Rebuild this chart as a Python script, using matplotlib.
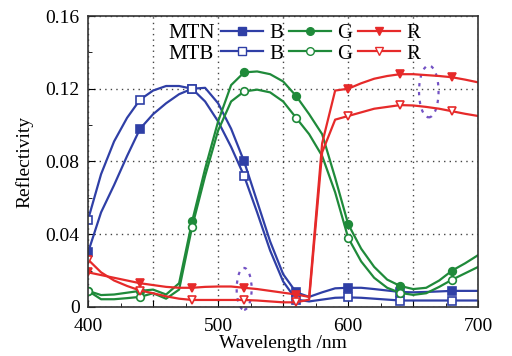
import numpy as np
import matplotlib.pyplot as plt
from matplotlib.lines import Line2D
from matplotlib.patches import Ellipse
from matplotlib.ticker import MultipleLocator, FuncFormatter

plt.rcParams['font.family'] = ['Liberation Serif', 'DejaVu Serif']

# wavelength grid (nm) and reflectivity readings
wavelength = np.arange(400, 701, 10)

mtn_b = [0.030, 0.052, 0.067, 0.083, 0.098, 0.106, 0.112, 0.117, 0.120, 0.1205,
         0.112, 0.098, 0.080, 0.058, 0.036, 0.018, 0.008, 0.0055, 0.008, 0.0102,
         0.0105, 0.0105, 0.0098, 0.009, 0.0082, 0.008, 0.0082, 0.0085, 0.0088, 0.0088,
         0.0088]
mtb_b = [0.048, 0.073, 0.091, 0.104, 0.114, 0.119, 0.1215, 0.1215, 0.120, 0.113,
         0.102, 0.088, 0.072, 0.052, 0.031, 0.014, 0.004, 0.003, 0.004, 0.005,
         0.0052, 0.005, 0.0045, 0.004, 0.0035, 0.0035, 0.0035, 0.0035, 0.0035, 0.0035,
         0.0035]
mtn_g = [0.0088, 0.0065, 0.0068, 0.0078, 0.0088, 0.0095, 0.0068, 0.013, 0.047, 0.076,
         0.102, 0.122, 0.129, 0.1295, 0.128, 0.124, 0.116, 0.106, 0.095, 0.071,
         0.0455, 0.032, 0.022, 0.015, 0.0115, 0.0098, 0.0105, 0.0145, 0.020, 0.024,
         0.0285]
mtb_g = [0.0088, 0.0042, 0.0042, 0.0048, 0.0055, 0.0075, 0.0045, 0.0095, 0.044, 0.072,
         0.097, 0.113, 0.1185, 0.1195, 0.118, 0.113, 0.104, 0.095, 0.083, 0.063,
         0.038, 0.025, 0.016, 0.0105, 0.0077, 0.0066, 0.0075, 0.011, 0.015, 0.0185,
         0.022]
mtn_r = [0.019, 0.0175, 0.016, 0.0145, 0.013, 0.012, 0.011, 0.0105, 0.0105, 0.011,
         0.0112, 0.0112, 0.0105, 0.0098, 0.0088, 0.0078, 0.0068, 0.0055, 0.090, 0.119,
         0.120, 0.123, 0.1255, 0.127, 0.128, 0.128, 0.1275, 0.127, 0.1263, 0.125,
         0.1235]
mtb_r = [0.026, 0.019, 0.0145, 0.0115, 0.009, 0.0075, 0.0058, 0.0045, 0.0038, 0.0038,
         0.0038, 0.0038, 0.0038, 0.0035, 0.003, 0.0025, 0.0025, 0.004, 0.085, 0.103,
         0.105, 0.107, 0.109, 0.110, 0.111, 0.1108, 0.110, 0.109, 0.1076, 0.1062,
         0.105]

blue = '#2f3fa6'
green = '#1f8a3a'
red = '#e62a2a'
purple = '#7352c4'

fig = plt.figure(figsize=(5.12, 3.56), dpi=100)
ax = fig.add_axes([0.172, 0.138, 0.762, 0.817])

common = dict(lw=1.6, markevery=4, markersize=5.5, markeredgewidth=1.2)
ax.plot(wavelength, mtn_b, color=blue, marker='s', **common)
ax.plot(wavelength, mtb_b, color=blue, marker='s', markerfacecolor='white', **common)
ax.plot(wavelength, mtn_g, color=green, marker='o', **common)
ax.plot(wavelength, mtb_g, color=green, marker='o', markerfacecolor='white', **common)
ax.plot(wavelength, mtn_r, color=red, marker='v', **common)
ax.plot(wavelength, mtb_r, color=red, marker='v', markerfacecolor='white', **common)

# dashed highlight ellipses
for (cx, cy, w, h) in [(520, 0.0099, 11.5, 0.023), (662, 0.1185, 15, 0.0285)]:
    ax.add_patch(Ellipse((cx, cy), w, h, fill=False, edgecolor=purple,
                         lw=1.6, linestyle=(0, (1.5, 2.5)), clip_on=False))

ax.set_xlim(400, 700)
ax.set_ylim(0, 0.16)
ax.xaxis.set_major_locator(MultipleLocator(50))
ax.xaxis.set_minor_locator(MultipleLocator(25))
ax.yaxis.set_major_locator(MultipleLocator(0.04))
ax.yaxis.set_minor_locator(MultipleLocator(0.02))
ax.xaxis.set_major_formatter(FuncFormatter(lambda v, p: f'{int(v)}' if v % 100 == 0 else ''))
ax.yaxis.set_major_formatter(FuncFormatter(lambda v, p: '0' if v == 0 else f'{v:.2f}'))
ax.tick_params(which='both', direction='in', top=False, right=False, labelsize=14)
ax.tick_params(axis='x', pad=8)
ax.tick_params(axis='y', pad=6)
ax.tick_params(which='major', length=5)
ax.tick_params(which='minor', length=3)
ax.grid(True, which='major', linestyle=(0, (1, 3)), color='#444444', lw=1)
for s in ax.spines.values():
    s.set_color('#333333')
    s.set_linewidth(1.2)

ax.set_xlabel('Wavelength /nm', fontsize=14, labelpad=0)
ax.set_ylabel('Reflectivity', fontsize=14, labelpad=9)

# legend: row labels in an invisible first column
blank = Line2D([], [], linestyle='none')
handles = [blank, blank,
           Line2D([], [], color=blue, marker='s', lw=1.6, ms=5.5),
           Line2D([], [], color=blue, marker='s', mfc='white', lw=1.6, ms=5.5),
           Line2D([], [], color=green, marker='o', lw=1.6, ms=5.5),
           Line2D([], [], color=green, marker='o', mfc='white', lw=1.6, ms=5.5),
           Line2D([], [], color=red, marker='v', lw=1.6, ms=5.5),
           Line2D([], [], color=red, marker='v', mfc='white', lw=1.6, ms=5.5)]
labels = ['MTN', 'MTB', 'B', 'B', 'G', 'G', 'R', 'R']
ax.legend(handles, labels, ncol=4, frameon=False, fontsize=15,
          handlelength=2.0, handletextpad=0.3, columnspacing=0.3,
          labelspacing=0.05, borderpad=0, borderaxespad=0,
          loc='center left', bbox_to_anchor=(0.235, 0.878),
          bbox_transform=fig.transFigure)

fig.savefig('out.png', dpi=100)
